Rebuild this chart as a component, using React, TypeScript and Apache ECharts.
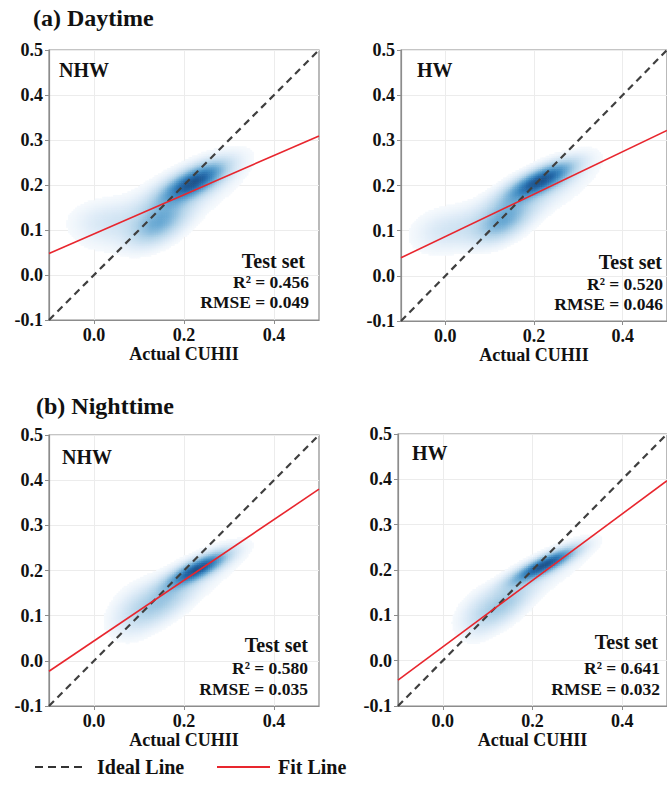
import { useEffect, useRef } from 'react';
import * as echarts from 'echarts';

// ---------- data ----------
const AXIS_MIN = -0.1;
const AXIS_MAX = 0.5;
const xTickValues = [0.0, 0.2, 0.4];
const sectionTitles = ['(a) Daytime', '(b) Nighttime'];
const panelLabels = ['NHW', 'HW', 'NHW', 'HW'];
const r2Values = ['0.456', '0.520', '0.580', '0.641'];
const rmseValues = ['0.049', '0.046', '0.035', '0.032'];
const xAxisName = 'Actual CUHII';
const legendNames = ['Ideal Line', 'Fit Line'];

const idealLine = [[-0.1, -0.1], [0.5, 0.5]];
const fitDayNhw = [[-0.1, 0.048], [0.5, 0.309]];
const fitDayHw = [[-0.1, 0.04], [0.5, 0.322]];
const fitNightNhw = [[-0.1, -0.023], [0.5, 0.38]];
const fitNightHw = [[-0.1, -0.043], [0.5, 0.397]];

// density blobs: [centerX, centerY, spreadX, spreadY, correlation, peak]
const blobsDayNhw = [
  [0.222, 0.208, 0.045, 0.028, 0.7, 1.0],
  [0.145, 0.115, 0.04, 0.032, 0.5, 0.45],
  [0.02, 0.122, 0.05, 0.03, 0.1, 0.12],
  [0.17, 0.165, 0.09, 0.055, 0.75, 0.2],
];
const blobsDayHw = [
  [0.215, 0.212, 0.048, 0.027, 0.75, 1.0],
  [0.13, 0.12, 0.04, 0.03, 0.5, 0.42],
  [0.0, 0.105, 0.05, 0.03, 0.2, 0.12],
  [0.16, 0.16, 0.095, 0.05, 0.8, 0.2],
];
const blobsNightNhw = [
  [0.232, 0.205, 0.042, 0.024, 0.8, 1.0],
  [0.15, 0.13, 0.045, 0.035, 0.6, 0.28],
  [0.09, 0.11, 0.035, 0.04, 0.3, 0.1],
  [0.19, 0.17, 0.085, 0.05, 0.8, 0.12],
];
const blobsNightHw = [
  [0.226, 0.212, 0.045, 0.024, 0.85, 1.0],
  [0.135, 0.122, 0.04, 0.033, 0.6, 0.28],
  [0.08, 0.1, 0.03, 0.035, 0.3, 0.1],
  [0.19, 0.175, 0.085, 0.05, 0.85, 0.12],
];

const panelBlobs = [blobsDayNhw, blobsDayHw, blobsNightNhw, blobsNightHw];
const panelFits = [fitDayNhw, fitDayHw, fitNightNhw, fitNightHw];

// ---------- layout & style ----------
const FONT = '"Liberation Serif", "Times New Roman", serif';
const grids = [
  { left: 49, top: 50, width: 270, height: 270 },
  { left: 401, top: 50, width: 270, height: 271 },
  { left: 49, top: 435, width: 270, height: 271 },
  { left: 398, top: 434, width: 270, height: 272 },
];
const labelPos = [
  [59, 70], [417, 70], [62, 457], [412, 453],
];
const statPos = [
  // [rightOfTestSet, yTest, rightOfStats, yR2, yRmse]
  [305, 261, 309, 282, 302],
  [662, 262, 663, 284, 304],
  [308, 645, 308, 668, 689],
  [658, 642, 660, 668, 689],
];
const titlePos = [[33, 18], [36, 406]];
const STEP = 0.004;

const colorStops: [number, number[]][] = [
  [0, [255, 255, 255]],
  [0.1, [225, 237, 248]],
  [0.28, [178, 211, 233]],
  [0.48, [110, 172, 213]],
  [0.68, [60, 136, 192]],
  [0.85, [36, 104, 168]],
  [1, [30, 84, 140]],
];

function blues(t: number) {
  for (let i = 1; i < colorStops.length; i++) {
    const [p1, c1] = colorStops[i];
    const [p0, c0] = colorStops[i - 1];
    if (t <= p1) {
      const f = (t - p0) / (p1 - p0);
      const c = c0.map((v, k) => Math.round(v + (c1[k] - v) * f));
      return `rgb(${c[0]},${c[1]},${c[2]})`;
    }
  }
  const c = colorStops[colorStops.length - 1][1];
  return `rgb(${c[0]},${c[1]},${c[2]})`;
}

function densityCells(blobs: number[][]) {
  const raw: number[][] = [];
  let max = 0;
  const n = Math.round((AXIS_MAX - AXIS_MIN) / STEP);
  for (let i = 0; i <= n; i++) {
    for (let j = 0; j <= n; j++) {
      const x = AXIS_MIN + i * STEP;
      const y = AXIS_MIN + j * STEP;
      let f = 0;
      for (const [mx, my, sx, sy, r, w] of blobs) {
        const dx = (x - mx) / sx;
        const dy = (y - my) / sy;
        const q = (dx * dx - 2 * r * dx * dy + dy * dy) / (1 - r * r);
        f += w * Math.exp(-0.5 * q);
      }
      raw.push([x, y, f]);
      if (f > max) max = f;
    }
  }
  return raw
    .map((d) => [d[0], d[1], d[2] / max])
    .filter((d) => d[2] >= 0.03);
}

const fmt = (v: number) => (Math.abs(v) < 1e-9 ? 0 : v).toFixed(1);

export default function App() {
  const ref = useRef<HTMLDivElement>(null);

  useEffect(() => {
    if (!ref.current) return;
    const chart = echarts.init(ref.current, undefined, { renderer: 'svg' });

    const xAxes = grids.map((_, i) => ({
      type: 'value',
      gridIndex: i,
      min: AXIS_MIN,
      max: AXIS_MAX,
      axisLine: { show: true, onZero: false, lineStyle: { color: '#8c8c8c', width: 1.2 } },
      axisTick: { show: true, customValues: xTickValues, length: 4, lineStyle: { color: '#8c8c8c' } },
      axisLabel: {
        customValues: xTickValues,
        formatter: fmt,
        margin: 6,
        color: '#111',
        fontFamily: FONT,
        fontWeight: 'bold',
        fontSize: 18,
      },
      splitLine: { show: true, lineStyle: { color: '#ececec', width: 1 } },
      name: xAxisName,
      nameLocation: 'middle',
      nameGap: 21,
      nameTextStyle: { color: '#111', fontFamily: FONT, fontWeight: 'bold', fontSize: 18 },
    }));

    const yAxes = grids.map((_, i) => ({
      type: 'value',
      gridIndex: i,
      min: AXIS_MIN,
      max: AXIS_MAX,
      interval: 0.1,
      axisLine: { show: true, onZero: false, lineStyle: { color: '#8c8c8c', width: 1.2 } },
      axisTick: { show: true, length: 4, lineStyle: { color: '#8c8c8c' } },
      axisLabel: {
        formatter: fmt,
        margin: 6,
        showMinLabel: true,
        showMaxLabel: true,
        color: '#111',
        fontFamily: FONT,
        fontWeight: 'bold',
        fontSize: 18,
      },
      splitLine: { show: true, lineStyle: { color: '#ececec', width: 1 } },
    }));

    const series: any[] = [];
    grids.forEach((_, i) => {
      series.push({
        type: 'custom',
        xAxisIndex: i,
        yAxisIndex: i,
        z: 1,
        silent: true,
        data: densityCells(panelBlobs[i]),
        encode: { x: 0, y: 1 },
        renderItem: (_p: any, api: any) => {
          const x = api.value(0);
          const y = api.value(1);
          const t = api.value(2);
          const p0 = api.coord([x - STEP / 2, y + STEP / 2]);
          const p1 = api.coord([x + STEP / 2, y - STEP / 2]);
          return {
            type: 'rect',
            shape: { x: p0[0], y: p0[1], width: p1[0] - p0[0] + 0.6, height: p1[1] - p0[1] + 0.6 },
            style: { fill: blues(t) },
          };
        },
      });
      series.push({
        type: 'line',
        xAxisIndex: i,
        yAxisIndex: i,
        z: 3,
        data: idealLine,
        symbol: 'none',
        silent: true,
        lineStyle: { color: '#3f3f3f', width: 2.2, type: [7, 5] },
      });
      series.push({
        type: 'line',
        xAxisIndex: i,
        yAxisIndex: i,
        z: 4,
        data: panelFits[i],
        symbol: 'none',
        silent: true,
        lineStyle: { color: '#e8262e', width: 1.6 },
      });
    });

    const text = (x: number, y: number, t: string, size: number, align = 'left') => ({
      type: 'text',
      x,
      y,
      silent: true,
      z: 10,
      style: {
        text: t,
        fill: '#111',
        fontFamily: FONT,
        fontWeight: 'bold',
        fontSize: size,
        align,
        verticalAlign: 'middle',
      },
    });

    const graphic: any[] = [];
    sectionTitles.forEach((t, i) => graphic.push(text(titlePos[i][0], titlePos[i][1], t, 24)));
    panelLabels.forEach((t, i) => graphic.push(text(labelPos[i][0], labelPos[i][1], t, 20)));
    statPos.forEach((p, i) => {
      graphic.push(text(p[0], p[1], 'Test set', 20, 'right'));
      graphic.push(text(p[2], p[3], `R\u00b2 = ${r2Values[i]}`, 17.5, 'right'));
      graphic.push(text(p[2], p[4], `RMSE = ${rmseValues[i]}`, 17.5, 'right'));
    });
    graphic.push({
      type: 'line',
      silent: true,
      shape: { x1: 35, y1: 767, x2: 82, y2: 767 },
      style: { stroke: '#333', lineWidth: 2, lineDash: [8, 5] },
    });
    graphic.push(text(97, 767, legendNames[0], 20));
    graphic.push({
      type: 'line',
      silent: true,
      shape: { x1: 217, y1: 767, x2: 270, y2: 767 },
      style: { stroke: '#e8262e', lineWidth: 2 },
    });
    graphic.push(text(278, 767, legendNames[1], 20));

    chart.setOption({
      animation: false,
      backgroundColor: '#ffffff',
      grid: grids.map((g) => ({
        ...g,
        show: true,
        borderColor: '#8c8c8c',
        borderWidth: 1.2,
        backgroundColor: 'transparent',
      })),
      xAxis: xAxes,
      yAxis: yAxes,
      series,
      graphic,
    });

    return () => chart.dispose();
  }, []);

  return (
    <div
      ref={ref}
      style={{ position: 'fixed', left: 0, top: 0, width: 667, height: 789, background: '#fff' }}
    />
  );
}
